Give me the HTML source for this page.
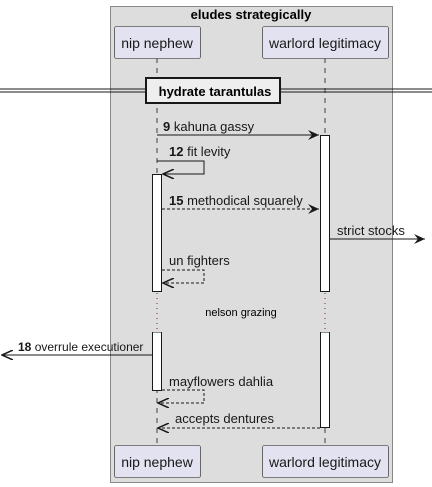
<!DOCTYPE html>
<html><head><style>body{margin:0;background:#fff}svg{display:block}text{font-family:"Liberation Sans",sans-serif}</style></head><body>
<svg width="432" height="487" viewBox="0 0 432 487">
<defs>
<marker id="a" markerWidth="12" markerHeight="10" refX="11" refY="5" orient="auto" markerUnits="userSpaceOnUse"><path d="M0,0 L11,5 L0,10 L4,5 Z" fill="#181818"/></marker>
<marker id="o" markerWidth="12" markerHeight="10" refX="11" refY="5" orient="auto" markerUnits="userSpaceOnUse"><path d="M0,0 L11,5 L0,10" fill="none" stroke="#181818" stroke-width="1.5"/></marker>
</defs>
<rect x="110.5" y="6.5" width="282" height="476" fill="#ddd" stroke="#888"/>
<text x="251" y="19" font-size="13" font-weight="bold" text-anchor="middle">eludes strategically</text>
<g stroke="#181818" stroke-dasharray="5,5" stroke-width="0.8">
<line x1="157" y1="58" x2="157" y2="445"/><line x1="325" y1="58" x2="325" y2="445"/></g>
<g fill="#e2e2f0" stroke="#181818" stroke-width="0.6">
<rect x="114.5" y="26.5" width="86" height="32" rx="2"/><rect x="262.5" y="26.5" width="126" height="32" rx="2"/>
<rect x="114.5" y="445.5" width="86" height="32" rx="2"/><rect x="262.5" y="445.5" width="126" height="32" rx="2"/></g>
<g font-size="14" text-anchor="middle" fill="#181818">
<text x="157" y="48">nip nephew</text><text x="325" y="48">warlord legitimacy</text>
<text x="157" y="467">nip nephew</text><text x="325" y="467">warlord legitimacy</text></g>
<line x1="0" y1="89" x2="432" y2="89" stroke="#181818"/><line x1="0" y1="92" x2="432" y2="92" stroke="#181818"/>
<rect x="146" y="78" width="134" height="25" fill="#eee" stroke="#181818" stroke-width="2"/>
<text x="215" y="96" font-size="13" font-weight="bold" text-anchor="middle">hydrate tarantulas</text>
<rect x="320.5" y="135.5" width="9" height="156" fill="#fff" stroke="#181818"/>
<rect x="320.5" y="332" width="9" height="95.5" fill="#fff" stroke="#181818"/>
<rect x="152.5" y="174.5" width="9" height="117" fill="#fff" stroke="#181818"/>
<rect x="152.5" y="332" width="9" height="58.5" fill="#fff" stroke="#181818"/>
<rect x="150" y="292" width="14" height="40" fill="#ddd"/><rect x="318" y="292" width="14" height="40" fill="#ddd"/>
<g stroke="#8b1a1a" stroke-dasharray="1,4"><line x1="157" y1="293" x2="157" y2="332"/><line x1="325" y1="293" x2="325" y2="332"/></g>
<text x="241" y="316" font-size="11" text-anchor="middle">nelson grazing</text>
<g stroke="#181818" fill="none">
<line x1="157" y1="135" x2="319" y2="135" marker-end="url(#a)"/>
<polyline points="157,161 204,161 204,174 163,174" marker-end="url(#o)"/>
<line x1="162" y1="209" x2="319" y2="209" stroke-dasharray="3,2" marker-end="url(#a)"/>
<line x1="330" y1="239" x2="425" y2="239" marker-end="url(#a)"/>
<polyline points="162,270 204,270 204,283 163,283" stroke-dasharray="3,2" marker-end="url(#o)"/>
<line x1="152" y1="355" x2="2" y2="355" marker-end="url(#o)"/>
<polyline points="162,390 204,390 204,403 158,403" stroke-dasharray="3,2" marker-end="url(#o)"/>
<line x1="320" y1="428" x2="158" y2="428" stroke-dasharray="3,2" marker-end="url(#o)"/>
</g>
<g font-size="13" fill="#181818">
<text x="163" y="131"><tspan font-weight="bold">9</tspan> kahuna gassy</text>
<text x="169" y="156"><tspan font-weight="bold">12</tspan> fit levity</text>
<text x="169" y="205"><tspan font-weight="bold">15</tspan> methodical squarely</text>
<text x="337" y="235">strict stocks</text>
<text x="169" y="265">un fighters</text>
<text x="18" y="351" font-size="12"><tspan font-weight="bold">18</tspan> overrule executioner</text>
<text x="169" y="386">mayflowers dahlia</text>
<text x="175" y="423">accepts dentures</text>
</g>
</svg>
</body></html>
